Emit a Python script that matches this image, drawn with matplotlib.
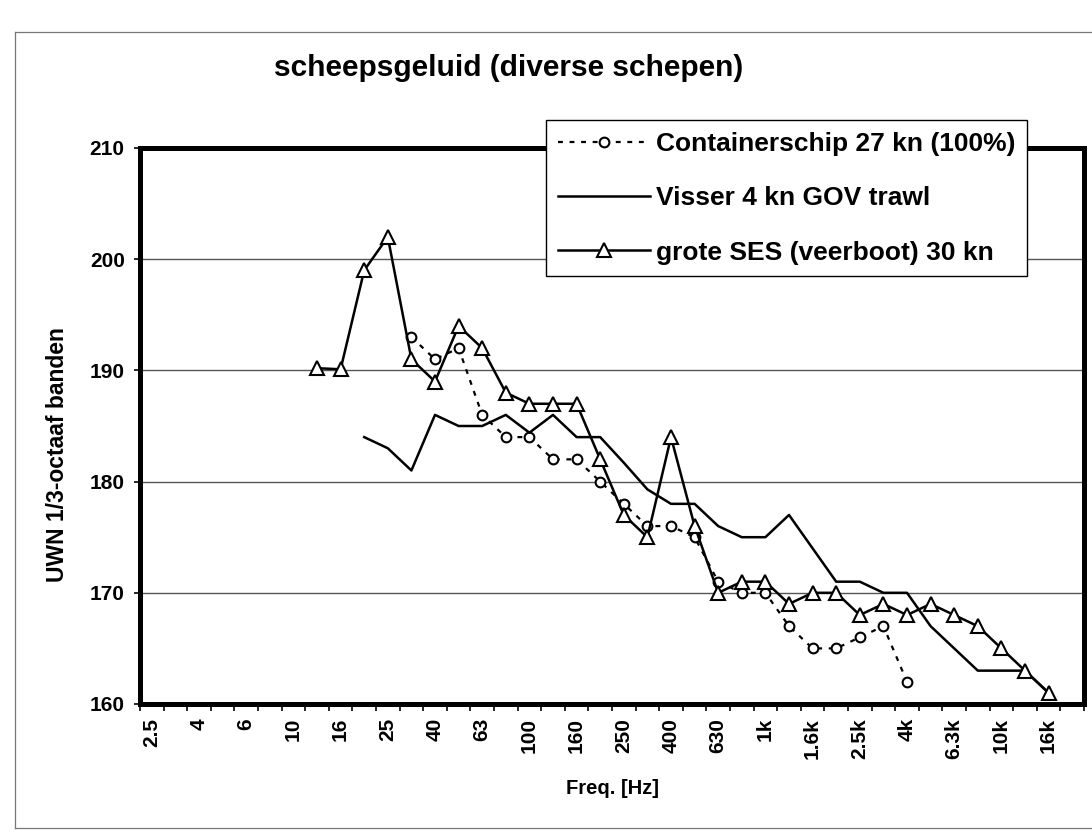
import numpy as np
import matplotlib
matplotlib.use('Agg')
import matplotlib.pyplot as plt
from matplotlib.lines import Line2D

plt.rcParams['font.family'] = ['Liberation Sans', 'DejaVu Sans']
plt.rcParams['font.weight'] = 'bold'

# ── Data: 1/3-octave bands 2.5 Hz .. 20 kHz ─────────────────────────────────
bands = ["2.5", "3.15", "4", "5", "6.3", "8", "10", "12.5", "16", "20",
         "25", "31.5", "40", "50", "63", "80", "100", "125", "160", "200",
         "250", "315", "400", "500", "630", "800", "1k", "1.25k", "1.6k", "2k",
         "2.5k", "3.15k", "4k", "5k", "6.3k", "8k", "10k", "12.5k", "16k", "20k"]
tick_labels = ["2.5", "4", "6", "10", "16", "25", "40", "63", "100", "160",
               "250", "400", "630", "1k", "1.6k", "2.5k", "4k", "6.3k", "10k", "16k"]

nan = np.nan
container = [nan] * 11 + [193, 191, 192, 186, 184, 184, 182, 182, 180, 178,
                          176, 176, 175, 171, 170, 170, 167, 165, 165, 166,
                          167, 162] + [nan] * 7
visser = [nan] * 9 + [184, 183, 181, 186, 185, 185, 186, 184.4, 186, 184,
                      184, 181.7, 179.3, 178, 178, 176, 175, 175, 177, 174,
                      171, 171, 170, 170, 167, 165, 163, 163, 163, 161] + [nan]
ses = [nan] * 7 + [190.2, 190.1, 199, 202, 191, 189, 194, 192, 188,
                   187, 187, 187, 182, 177, 175, 184, 176, 170, 171,
                   171, 169, 170, 170, 168, 169, 168, 169, 168, 167,
                   165, 163, 161] + [nan]

labels = ["Containerschip 27 kn (100%)", "Visser 4 kn GOV trawl",
          "grote SES (veerboot) 30 kn"]

# ── Figure ──────────────────────────────────────────────────────────────────
W, H = 1092, 839
fig = plt.figure(figsize=(W / 100, H / 100), dpi=100)

# outer chart-area border of the scanned page
fig.add_artist(Line2D([15 / W, 15 / W], [1 - 828 / H, 1 - 32 / H],
                      color="#777777", lw=0.9))
fig.add_artist(Line2D([15 / W, 1.0], [1 - 32 / H, 1 - 32 / H],
                      color="#777777", lw=0.9))
fig.add_artist(Line2D([15 / W, 1.0], [1 - 828 / H, 1 - 828 / H],
                      color="#777777", lw=0.9))

ax = fig.add_axes([140 / W, 1 - 704 / H, (1084 - 140) / W, (704 - 148) / H])
x = np.arange(len(bands))

dash = (0, (2.2, 3))
ax.plot(x, container, color="black", lw=1.6, ls=dash,
        marker="o", ms=7, mfc="white", mec="black", mew=1.5, zorder=3)
ax.plot(x, visser, color="black", lw=1.8, zorder=3)
ax.plot(x, ses, color="black", lw=1.8, marker="^", ms=10,
        mfc="white", mec="black", mew=1.5, zorder=4)

ax.set_xlim(-0.5, len(bands) - 0.5)
ax.set_ylim(160, 210)
ax.set_yticks(range(160, 211, 10))
ax.yaxis.grid(True, color="#555555", lw=1.0)
ax.set_axisbelow(True)

ax.set_xticks(np.arange(0, len(bands), 2))
ax.set_xticklabels(tick_labels, rotation=90, fontsize=15, fontweight="bold")
ax.set_xticks(np.arange(-0.5, len(bands), 1), minor=True)
ax.tick_params(axis="x", which="major", length=0, pad=10)
ax.tick_params(axis="x", which="minor", length=5, width=1.2, direction="out")
ax.tick_params(axis="y", length=4, width=1.2, pad=7, labelsize=15)
for lab in ax.get_yticklabels():
    lab.set_fontweight("bold")

for sp in ax.spines.values():
    sp.set_linewidth(3.6)

fig.text(509 / W, 1 - 68 / H, "scheepsgeluid (diverse schepen)",
         ha="center", va="center", fontsize=21.5, fontweight="bold")
fig.text(613 / W, 1 - 789 / H, "Freq. [Hz]", ha="center", va="center",
         fontsize=14.5, fontweight="bold")
fig.text(58 / W, 1 - 455 / H, "UWN 1/3-octaaf banden", ha="center",
         va="center", rotation=90, fontsize=16.5, fontweight="bold")

handles = [
    Line2D([], [], color="black", lw=1.6, ls=dash, marker="o", ms=7,
           mfc="white", mec="black", mew=1.5),
    Line2D([], [], color="black", lw=1.8),
    Line2D([], [], color="black", lw=1.8, marker="^", ms=10, mfc="white",
           mec="black", mew=1.5),
]
leg = ax.legend(handles, labels, loc="upper left",
                bbox_to_anchor=(546 / W, 1 - 120 / H),
                bbox_transform=fig.transFigure, frameon=True, fancybox=False,
                framealpha=1, edgecolor="black", fontsize=19,
                handlelength=3.5, handletextpad=0.2, labelspacing=1.15,
                borderpad=0.45, borderaxespad=0)
leg.get_frame().set_linewidth(1.0)
for t in leg.get_texts():
    t.set_fontweight("bold")

fig.savefig("out.png", dpi=100)
